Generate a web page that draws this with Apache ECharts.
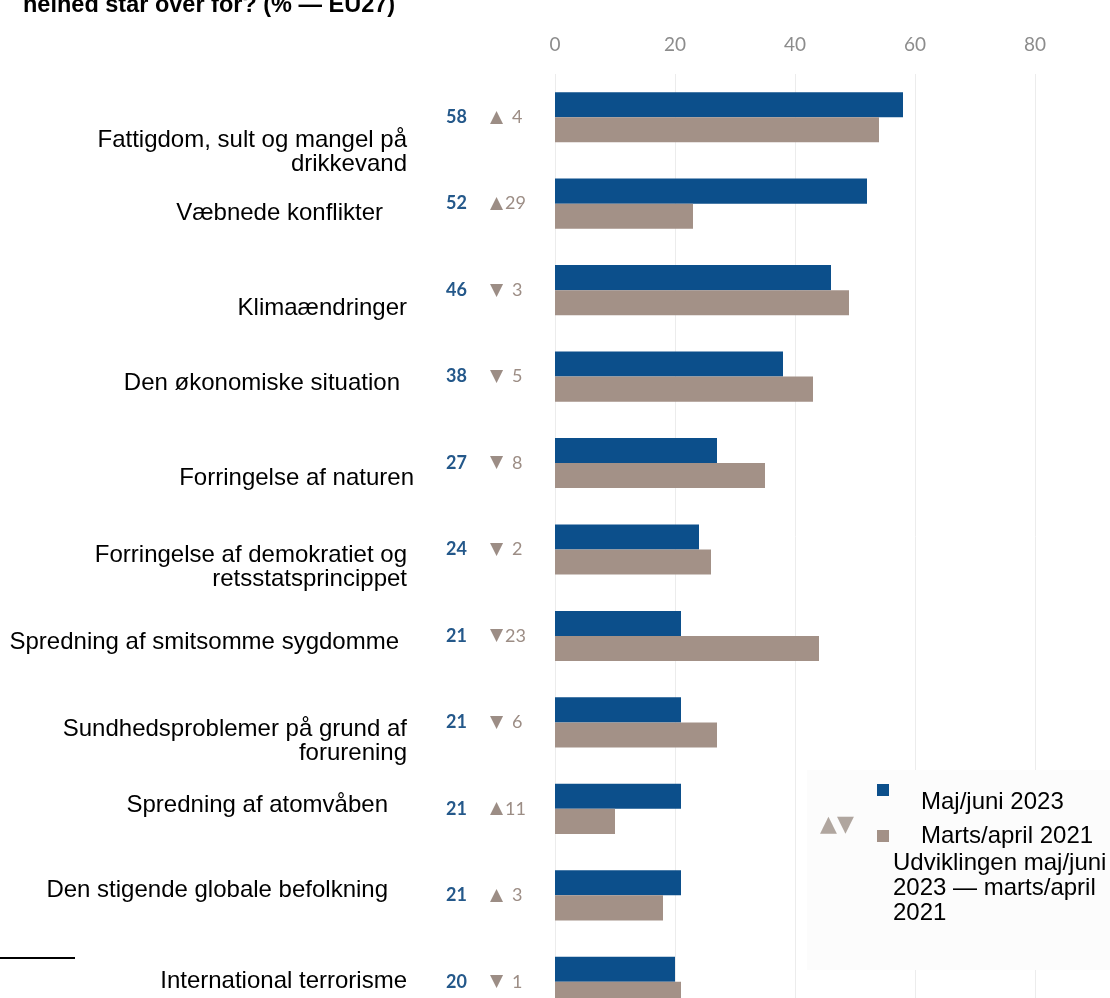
<!DOCTYPE html>
<html>
<head>
<meta charset="utf-8">
<script src="https://cdn.jsdelivr.net/npm/echarts@6/dist/echarts.min.js"></script>
<style>
html,body{margin:0;padding:0;background:#fff;}
#chart{width:1110px;height:998px;}
</style>
</head>
<body>
<div id="chart"></div>
<script>
// ---- data ----
const categories = [
  'Fattigdom, sult og mangel på\ndrikkevand',
  'Væbnede konflikter',
  'Klimaændringer',
  'Den økonomiske situation',
  'Forringelse af naturen',
  'Forringelse af demokratiet og\nretsstatsprincippet',
  'Spredning af smitsomme sygdomme',
  'Sundhedsproblemer på grund af\nforurening',
  'Spredning af atomvåben',
  'Den stigende globale befolkning',
  'International terrorisme'
];
const may2023 = [58, 52, 46, 38, 27, 24, 21, 21, 21, 21, 20];
const march2021 = [54, 23, 49, 43, 35, 26, 44, 27, 10, 18, 21];
const seriesNames = ['Maj/juni 2023', 'Marts/april 2021'];
const xTicks = [0, 20, 40, 60, 80];

// ---- layout (label nudges: right padding, vertical shift) ----
const labelPadRight = [7, 31, 7, 14, 0, 7, 15, 7, 26, 26, 7];
const labelShiftY = [35, 10, 18, 7, 15, 18, 6, 19, -3, -5, 0];

const BLUE = '#0c4f8b';
const BROWN = '#a39187';
const NUM_BLUE = '#24588a';
const GREY = '#9c8d85';
const TXT_FONT = '"Liberation Sans", Arial, sans-serif';
const NUM_FONT = 'Lato, "DejaVu Sans", sans-serif';

// rich styles for per-label nudges
const catRich = {};
categories.forEach((c, i) => {
  const dy = labelShiftY[i];
  const pr = labelPadRight[i];
  const top = dy > 0 ? 2 * dy : 0;
  const bot = dy < 0 ? -2 * dy : 0;
  const n = c.split('\n').length;
  if (n === 1) {
    catRich['s' + i] = {padding: [top, pr, bot, 0]};
  } else {
    catRich['f' + i] = {padding: [top, pr, 0, 0]};
    catRich['l' + i] = {padding: [0, pr, bot, 0]};
  }
});

const legendText = {fontSize: 24, color: '#000', fontFamily: TXT_FONT};

const chart = echarts.init(document.getElementById('chart'), null, {renderer: 'canvas'});
chart.setOption({
  animation: false,
  backgroundColor: '#ffffff',
  grid: {left: 555, width: 480, top: 74, height: 951, containLabel: false, outerBoundsMode: 'none'},
  xAxis: {
    type: 'value', position: 'top', min: xTicks[0], max: xTicks[xTicks.length - 1], interval: 20,
    axisLine: {show: false}, axisTick: {show: false},
    axisLabel: {color: '#8c8c8c', fontSize: 19, fontFamily: NUM_FONT, margin: 20},
    splitLine: {show: true, lineStyle: {color: '#ececec', width: 1}}
  },
  yAxis: [
    {
      type: 'category', data: categories, inverse: true, position: 'left',
      axisLine: {show: false}, axisTick: {show: false},
      axisLabel: {
        margin: 141, align: 'right', color: '#000', fontSize: 24,
        fontFamily: TXT_FONT,
        formatter: (v, i) => {
          const lines = v.split('\n');
          if (lines.length === 1) return '{s' + i + '|' + lines[0] + '}';
          return '{f' + i + '|' + lines[0] + '}\n{l' + i + '|' + lines[1] + '}';
        },
        rich: catRich
      }
    },
    {
      type: 'category', data: categories.map((c, i) => i), inverse: true, position: 'left',
      axisLine: {show: false}, axisTick: {show: false},
      axisLabel: {
        margin: 23, align: 'right',
        formatter: (v, i) => {
          const d = may2023[i] - march2021[i];
          const a = Math.abs(d);
          return '{v|' + may2023[i] + '}{t|' + (d >= 0 ? '▲' : '▼') + '}{' + (a < 10 ? 'e' : 'd') + '|' + a + '}';
        },
        rich: {
          v: {fontFamily: NUM_FONT, fontWeight: 'bold', fontSize: 18, color: NUM_BLUE, width: 44, align: 'left'},
          t: {fontFamily: '"DejaVu Sans", sans-serif', fontSize: 17, color: GREY, width: 15, align: 'left'},
          d: {fontFamily: NUM_FONT, fontSize: 18, color: GREY, width: 27, align: 'left'},
          e: {fontFamily: NUM_FONT, fontSize: 18, color: GREY, width: 20, align: 'left', padding: [0, 0, 0, 7]}
        }
      }
    }
  ],
  legend: [
    {
      data: [seriesNames[0]], orient: 'vertical', left: 877, top: 784, padding: 0,
      icon: 'rect', itemWidth: 12, itemHeight: 12,
      formatter: (n) => '{a|' + n + '}',
      textStyle: Object.assign({rich: {a: Object.assign({padding: [24, 0, 0, 27]}, legendText)}}, legendText),
      selectedMode: false
    },
    {
      data: [seriesNames[1]], orient: 'vertical', left: 877, top: 824, padding: 0,
      icon: 'rect', itemWidth: 12, itemHeight: 12,
      textStyle: Object.assign({padding: [0, 0, 0, 27]}, legendText),
      selectedMode: false
    }
  ],
  graphic: [
    {type: 'rect', shape: {x: 807, y: 770, width: 303, height: 200}, style: {fill: '#fcfcfc'}, z: 1, silent: true},
    {type: 'text', x: 820, y: 825, style: {text: '▲▼', fontSize: 22, fill: '#b0a69f', fontFamily: '"DejaVu Sans", sans-serif', verticalAlign: 'middle'}, z: 5},
    {type: 'text', x: 893, y: 851, style: {text: 'Udviklingen maj/juni\n2023 — marts/april\n2021', fontSize: 24, lineHeight: 25, fill: '#000', fontFamily: TXT_FONT, verticalAlign: 'top'}, z: 5},
    {type: 'text', x: 23, y: 6, style: {text: 'helhed står over for? (% — EU27)', fontSize: 23.5, fontWeight: 'bold', fill: '#000', fontFamily: TXT_FONT, verticalAlign: 'middle'}, z: 5},
    {type: 'line', shape: {x1: 0, y1: 958, x2: 75, y2: 958}, style: {stroke: '#000', lineWidth: 2}, z: 5}
  ],
  series: [
    {
      name: seriesNames[0], type: 'bar', data: may2023, yAxisIndex: 0,
      barGap: '0%', barCategoryGap: '42%',
      itemStyle: {color: BLUE}
    },
    {
      name: seriesNames[1], type: 'bar', data: march2021, yAxisIndex: 0,
      barGap: '0%', barCategoryGap: '42%',
      itemStyle: {color: BROWN}
    }
  ]
});
</script>
</body>
</html>
